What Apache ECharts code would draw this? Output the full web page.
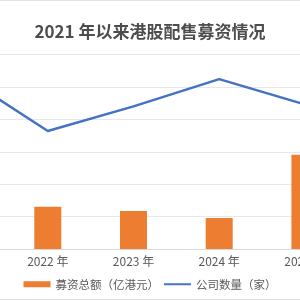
<!DOCTYPE html>
<html><head><meta charset="utf-8">
<script src="https://cdn.jsdelivr.net/npm/echarts@6/dist/echarts.min.js"></script>
<style>html,body{margin:0;padding:0;background:#fff}#c{width:300px;height:300px}</style>
</head><body><div id="c"></div>
<script>
const categories = ['2021 年', '2022 年', '2023 年', '2024 年', '2025 年'];
const fundsRaised = [500, 261, 234, 191, 582];
const companyCount = [268, 182, 220, 262, 223];
const titleText = '2021 年以来港股配售募资情况';
const seriesNames = ['募资总额（亿港元）', '公司数量（家）'];

const chart = echarts.init(document.getElementById('c'), null, {renderer: 'canvas'});
const font = '"Noto Sans CJK SC", "Noto Sans", sans-serif';
chart.setOption({
  animation: false,
  backgroundColor: '#fff',
  title: {
    text: titleText, left: 'center', top: 18,
    textStyle: {fontSize: 17, fontWeight: 'bold', color: '#4d4d4d', fontFamily: font}
  },
  legend: {
    bottom: 5, left: 'center', itemGap: 5,
    textStyle: {fontSize: 11.5, color: '#595959', fontFamily: font},
    data: [
      {name: seriesNames[0], icon: 'rect'},
      {name: seriesNames[1], icon: 'path://M0,0 L34,0 L34,2.5 L0,2.5 Z'}
    ],
    itemWidth: 27, itemHeight: 6
  },
  grid: {left: -80.75, right: -47.75, top: 54.5, bottom: 51, containLabel: false, outerBoundsMode: 'none'},
  xAxis: {
    type: 'category', data: categories, boundaryGap: true,
    axisLine: {show: true, lineStyle: {color: '#d9d9d9', width: 1}},
    axisTick: {show: false},
    axisLabel: {fontSize: 12, color: '#595959', fontFamily: font, margin: 6}
  },
  yAxis: [
    {type: 'value', min: 0, max: 1200, interval: 200,
     axisLabel: {show: false}, axisLine: {show: false}, axisTick: {show: false},
     splitLine: {lineStyle: {color: '#e8e8e8', width: 1}}},
    {type: 'value', min: 0, max: 300, interval: 50,
     axisLabel: {show: false}, axisLine: {show: false}, axisTick: {show: false},
     splitLine: {show: false}}
  ],
  series: [
    {name: seriesNames[0], type: 'bar', data: fundsRaised, yAxisIndex: 0,
     barWidth: 27, itemStyle: {color: '#ED7D31'}},
    {name: seriesNames[1], type: 'line', data: companyCount, yAxisIndex: 1,
     symbol: 'none', lineStyle: {color: '#4472C4', width: 2.5}, itemStyle: {color: '#4472C4'}}
  ],
  graphic: [
    {type: 'line', shape: {x1: 0, y1: 0.5, x2: 300, y2: 0.5}, style: {stroke: '#e3e3e3', lineWidth: 1}},
    {type: 'line', shape: {x1: 0, y1: 299.5, x2: 300, y2: 299.5}, style: {stroke: '#e3e3e3', lineWidth: 1}}
  ]
});
</script></body></html>
